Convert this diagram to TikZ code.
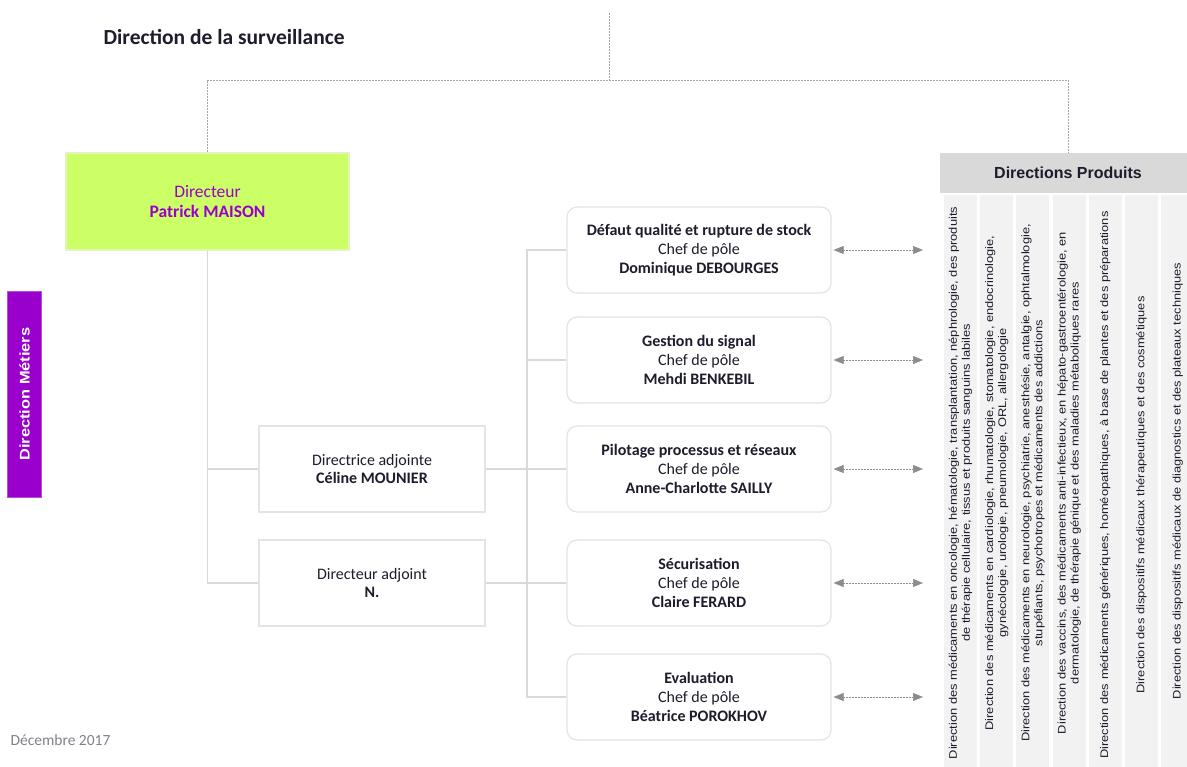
\documentclass[tikz,border=0pt]{standalone}
\usepackage{fontspec}
\setmainfont{Carlito}
\newfontfamily\arialfont{Liberation Sans}
\newfontfamily\arialwide[FakeStretch=1.17]{Liberation Sans}
\usetikzlibrary{arrows.meta}
\definecolor{survPurple}{HTML}{9900CC}
\definecolor{survLime}{HTML}{CCFF66}
\definecolor{survLimeEdge}{HTML}{E4F4BC}
\definecolor{survGray1}{HTML}{D9D9D9}
\definecolor{survGray2}{HTML}{F2F2F2}
\definecolor{survGray3}{HTML}{E4E4E4}
\definecolor{survGray4}{HTML}{8C8C8C}
\definecolor{survGray5}{HTML}{A6A6A6}
\definecolor{survDate}{HTML}{80808C}
\definecolor{survText}{HTML}{1C1C2C}

\begin{document}
\begin{tikzpicture}[x=1pt,y=-1pt,
    polebox/.style={draw=survGray3, line width=1.2pt, rounded corners=10pt, fill=white, text=survText,
      minimum width=264pt, minimum height=86pt, align=center, font=\fontsize{16}{19}\selectfont},
    adjbox/.style={draw=survGray3, line width=1.2pt, fill=white, text=survText,
      minimum width=226pt, minimum height=86pt, align=center, font=\fontsize{16}{18}\selectfont},
    tree/.style={draw=survGray1, line width=1.5pt},
    dotline/.style={draw=survGray5, line width=0.8pt, dash pattern=on 2pt off 1pt},
    biarrow/.style={survGray4, line width=0.7pt, dash pattern=on 2pt off 1pt,
      {Triangle[length=10pt,width=8pt]}-{Triangle[length=10pt,width=8pt]}},
    coltext/.style={rotate=90, align=center, text=survText, font=\arialwide\fontsize{11}{13}\selectfont}]
    \useasboundingbox (0,0) rectangle (1187,767);

    % title and date
    \node[anchor=west, text=survText, font=\bfseries\fontsize{21.5}{24}\selectfont] (title) at (100,37) {Direction de la surveillance};
    \node[anchor=west, text=survDate, font=\fontsize{15.5}{17}\selectfont] (date) at (7,740) {Décembre 2017};

    % left bar
    \node[rotate=90, fill=survPurple, draw=survPurple!70, minimum width=206pt, minimum height=34pt, inner sep=0pt,
      text=white, font=\arialwide\bfseries\fontsize{14}{16}\selectfont] (met) at (24.5,394) {Direction Métiers};

    % director
    \node[fill=survLime, draw=survLimeEdge, line width=1.5pt, minimum width=283pt, minimum height=97pt, align=center,
      text=survPurple, font=\fontsize{17.5}{20}\selectfont] (dir) at (207.5,201.5) {Directeur\\\textbf{Patrick MAISON}};

    % deputies
    \node[adjbox] (adj1) at (372,469) {Directrice adjointe\\\textbf{Céline MOUNIER}};
    \node[adjbox] (adj2) at (372,583) {Directeur adjoint\\\textbf{N.}};

    % poles
    \node[polebox] (p1) at (699,250) {\textbf{Défaut qualité et rupture de stock}\\Chef de pôle\\\textbf{Dominique DEBOURGES}};
    \node[polebox] (p2) at (699,360) {\textbf{Gestion du signal}\\Chef de pôle\\\textbf{Mehdi BENKEBIL}};
    \node[polebox] (p3) at (699,469) {\textbf{Pilotage processus et réseaux}\\Chef de pôle\\\textbf{Anne-Charlotte SAILLY}};
    \node[polebox] (p4) at (699,583) {\textbf{Sécurisation}\\Chef de pôle\\\textbf{Claire FERARD}};
    \node[polebox] (p5) at (699,697) {\textbf{Evaluation}\\Chef de pôle\\\textbf{Béatrice POROKHOV}};

    % product directions
    \node[fill=survGray1, minimum width=256pt, minimum height=40pt, text=survText,
      font=\arialfont\bfseries\fontsize{16}{18}\selectfont] (hdr) at (1068,173) {Directions Produits};
    \foreach \i in {0,...,6}
        \fill[survGray2] (944+36.2*\i,195) rectangle ++(33,575);
    \node[coltext] (col1) at (960.5,483) {Direction des médicaments en oncologie, hématologie, transplantation, néphrologie, des produits\\de thérapie cellulaire, tissus et produits sanguins labiles};
    \node[coltext] (col2) at (996.7,483) {Direction des médicaments en cardiologie, rhumatologie, stomatologie, endocrinologie,\\gynécologie, urologie, pneumologie, ORL, allergologie};
    \node[coltext] (col3) at (1032.9,483) {Direction des médicaments en neurologie, psychiatrie, anesthésie, antalgie, ophtalmologie,\\stupéfiants, psychotropes et médicaments des addictions};
    \node[coltext] (col4) at (1069.1,483) {Direction des vaccins, des médicaments anti-infectieux, en hépato-gastroentérologie, en\\dermatologie, de thérapie génique et des maladies métaboliques rares};
    \node[coltext] (col5) at (1105.3,485) {Direction des médicaments génériques, homéopathiques, à base de plantes et des préparations};
    \node[coltext] (col6) at (1141.5,495) {Direction des dispositifs médicaux thérapeutiques et des cosmétiques};
    \node[coltext] (col7) at (1177.7,481) {Direction des dispositifs médicaux de diagnostics et des plateaux techniques};

    % dotted links on top
    \coordinate (topend) at (609,13);
    \coordinate (bus) at (609,80);
    \draw[dotline] (topend) -- (bus);
    \draw[dotline] (dir.north) |- (bus) -| (hdr.north);

    % tree
    \coordinate (sp) at (527,0);
    \draw[tree] (dir.south) |- (adj2.west);
    \draw[tree] (dir.south |- adj1.west) -- (adj1.west);
    \draw[tree] (p1.west) -- (p1.west -| sp) -- (p5.west -| sp) -- (p5.west);
    \foreach \i in {2,3,4}
        \draw[tree] (p\i.west -| sp) -- (p\i.west);
    \draw[tree] (adj1.east) -- (adj1.east -| sp);
    \draw[tree] (adj2.east) -- (adj2.east -| sp);

    % arrows
    \coordinate (ax) at (923,0);
    \foreach \i in {1,...,5}
        \draw[biarrow] ([xshift=2pt]p\i.east) -- (p\i.east -| ax);
\end{tikzpicture}
\end{document}
